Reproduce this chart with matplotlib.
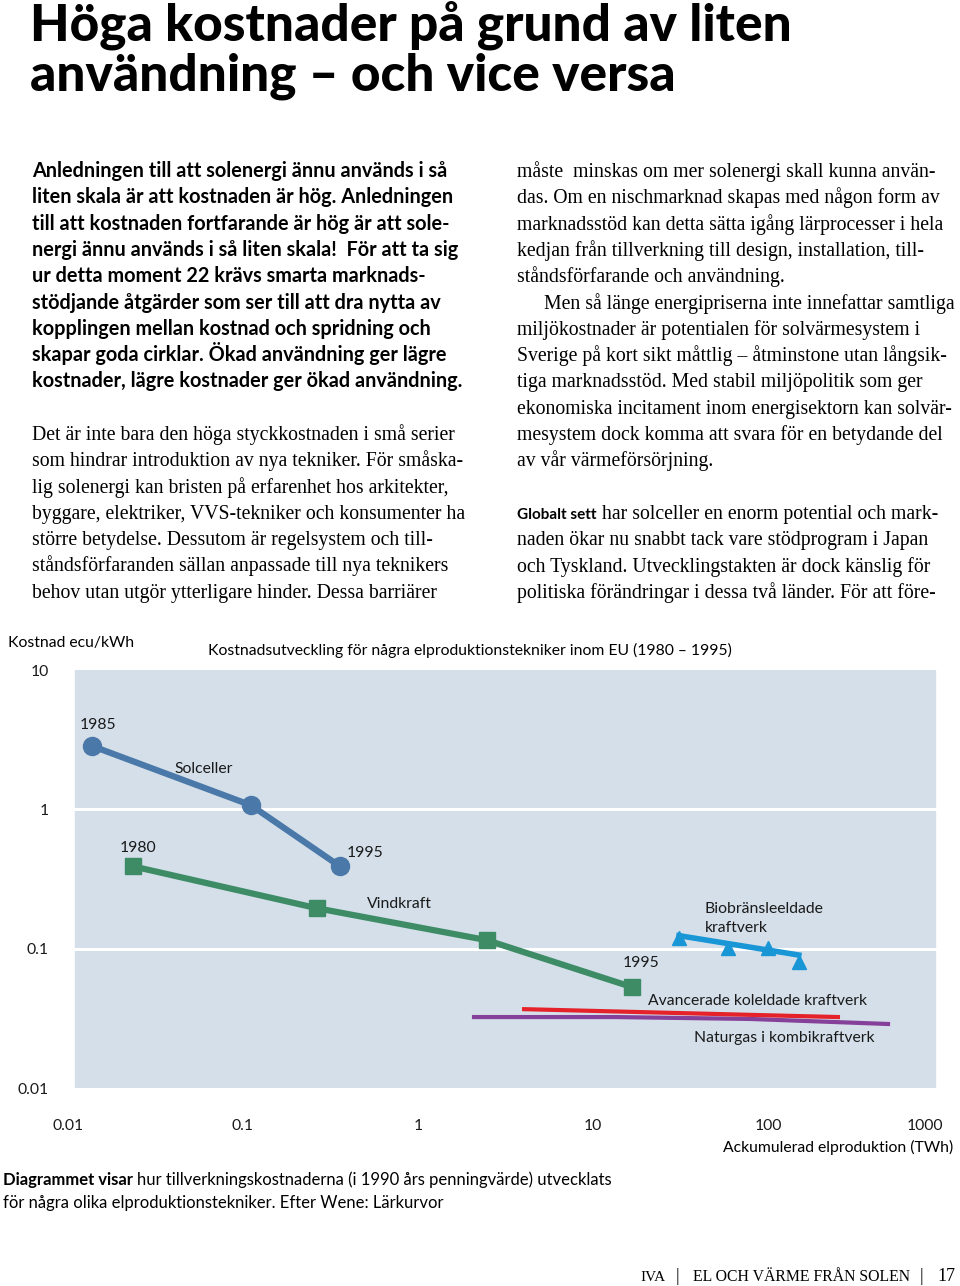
import matplotlib
matplotlib.use("Agg")
import matplotlib.pyplot as plt
from matplotlib.patches import Rectangle

W, H = 960, 1286

# --- chart data (ecu/kWh vs accumulated TWh) ---
sol_x = [0.0137, 0.111, 0.358]
sol_y = [2.85, 1.07, 0.39]

vind_x = [0.0235, 0.265, 2.48, 16.7]
vind_y = [0.39, 0.195, 0.115, 0.053]

bio_x = [31, 59, 100, 150]
bio_y = [0.119, 0.101, 0.101, 0.080]
bio_line_x = [31, 150]
bio_line_y = [0.124, 0.090]

kol_x = [4.04, 251]
kol_y = [0.0368, 0.0323]

gas_x = [2.09, 13.4, 78.9, 485]
gas_y = [0.0323, 0.0323, 0.0313, 0.0288]

x_ticks = [0.01, 0.1, 1, 10, 100, 1000]
x_labels = ["0.01", "0.1", "1", "10", "100", "1000"]
y_ticks = [0.01, 0.1, 1, 10]
y_labels = ["0.01", "0.1", "1", "10"]

# --- page text ---
title_lines = ["Höga kostnader på grund av liten", "användning – och vice versa"]
lead_lines = [
    "Anledningen till att solenergi ännu används i så",
    "liten skala är att kostnaden är hög. Anledningen",
    "till att kostnaden fortfarande är hög är att sole-",
    "nergi ännu används i så liten skala!  För att ta sig",
    "ur detta moment 22 krävs smarta marknads-",
    "stödjande åtgärder som ser till att dra nytta av",
    "kopplingen mellan kostnad och spridning och",
    "skapar goda cirklar. Ökad användning ger lägre",
    "kostnader, lägre kostnader ger ökad användning.",
]
left_body = [
    "Det är inte bara den höga styckkostnaden i små serier",
    "som hindrar introduktion av nya tekniker. För småska-",
    "lig solenergi kan bristen på erfarenhet hos arkitekter,",
    "byggare, elektriker, VVS-tekniker och konsumenter ha",
    "större betydelse. Dessutom är regelsystem och till-",
    "ståndsförfaranden sällan anpassade till nya teknikers",
    "behov utan utgör ytterligare hinder. Dessa barriärer",
]
right_body = [
    "måste  minskas om mer solenergi skall kunna använ-",
    "das. Om en nischmarknad skapas med någon form av",
    "marknadsstöd kan detta sätta igång lärprocesser i hela",
    "kedjan från tillverkning till design, installation, till-",
    "ståndsförfarande och användning.",
    "Men så länge energipriserna inte innefattar samtliga",
    "miljökostnader är potentialen för solvärmesystem i",
    "Sverige på kort sikt måttlig – åtminstone utan långsik-",
    "tiga marknadsstöd. Med stabil miljöpolitik som ger",
    "ekonomiska incitament inom energisektorn kan solvär-",
    "mesystem dock komma att svara för en betydande del",
    "av vår värmeförsörjning.",
]
global_lines = [
    "har solceller en enorm potential och mark-",
    "naden ökar nu snabbt tack vare stödprogram i Japan",
    "och Tyskland. Utvecklingstakten är dock känslig för",
    "politiska förändringar i dessa två länder. För att före-",
]

BLUE = "#4a78a8"
GREEN = "#3d8c66"
CYAN = "#1896d6"
RED = "#e52229"
PURPLE = "#85409a"
BG = "#d4dfe9"
SANS = "Lato"
SERIF = "Liberation Serif"
BODY = 14.2

fig = plt.figure(figsize=(W / 100, H / 100), dpi=100)
renderer = fig.canvas.get_renderer()


def put(x, y, s, **kw):
    return fig.text(x / W, 1 - y / H, s, **kw)


def put_runs(x, y, runs, gap=5):
    for s, kw in runs:
        t = put(x, y, s, va="baseline", **kw)
        x += t.get_window_extent(renderer).width + gap


# title
for i, line in enumerate(title_lines):
    put(30, 41 + i * 49, line, family=SANS, weight="black", fontsize=37, va="baseline")

# lead paragraph
for i, line in enumerate(lead_lines):
    put(32, 177 + i * 26.3, line, family=SANS, weight="bold", fontsize=14.3, va="baseline")

for i, line in enumerate(left_body):
    put(32, 440 + i * 26.3, line, family=SERIF, fontsize=BODY, va="baseline")

for i, line in enumerate(right_body):
    x0 = 544 if i == 5 else 517  # paragraph indent
    put(x0, 177 + i * 26.3, line, family=SERIF, fontsize=BODY, va="baseline")

put_runs(517, 519, [("Globalt sett", dict(family=SANS, weight="bold", fontsize=11)),
                    (global_lines[0], dict(family=SERIF, fontsize=BODY))])
for i, line in enumerate(global_lines[1:], start=1):
    put(517, 519 + i * 26.3, line, family=SERIF, fontsize=BODY, va="baseline")

# --- chart ---
ax = fig.add_axes([68 / W, 1 - 1088 / H, 875 / W, 418 / H])
ax.set_xscale("log")
ax.set_yscale("log")
ax.set_xlim(0.01, 1000)
ax.set_ylim(0.01, 10)
ax.patch.set_visible(False)
for s in ax.spines.values():
    s.set_visible(False)
ax.add_patch(Rectangle((7 / 875, 0), 860 / 875, 1, transform=ax.transAxes,
                       color=BG, zorder=0))
for g in [0.1, 1]:
    ax.axhline(g, xmin=7 / 875, xmax=867 / 875, color="white", lw=2.2, zorder=1)

ax.plot(gas_x, gas_y, color=PURPLE, lw=3, zorder=2)
ax.plot(kol_x, kol_y, color=RED, lw=3, zorder=2)
ax.plot(vind_x, vind_y, color=GREEN, lw=4.5, marker="s", ms=12, zorder=3)
ax.plot(sol_x, sol_y, color=BLUE, lw=4.5, marker="o", ms=13, zorder=3)
ax.plot(bio_line_x, bio_line_y, color=CYAN, lw=4, zorder=3)
ax.plot(bio_x, bio_y, color=CYAN, lw=0, marker="^", ms=10, zorder=3)

ax.minorticks_off()
ax.set_xticks(x_ticks, x_labels)
ax.set_yticks(y_ticks, y_labels)
ax.tick_params(length=0, labelsize=11.3, colors="#1a1a1a")
ax.tick_params(axis="x", pad=22)
ax.tick_params(axis="y", pad=14)
for lab in ax.get_xticklabels() + ax.get_yticklabels():
    lab.set_family(SANS)
ax.get_xticklabels()[-1].set_horizontalalignment("right")

lbl = dict(family=SANS, fontsize=11.3, color="#1a1a1a", va="center", ha="left")
ax.text(0.0117, 4.03, "1985", **lbl)
ax.text(0.0404, 1.95, "Solceller", **lbl)
ax.text(0.0198, 0.527, "1980", **lbl)
ax.text(0.393, 0.485, "1995", **lbl)
ax.text(0.511, 0.209, "Vindkraft", **lbl)
ax.text(43.6, 0.164, "Biobränsleeldade\nkraftverk", linespacing=1.45, **lbl)
ax.text(14.7, 0.0789, "1995", **lbl)
ax.text(20.6, 0.0421, "Avancerade koleldade kraftverk", **lbl)
ax.text(37.8, 0.0228, "Naturgas i kombikraftverk", **lbl)

put(8, 643, "Kostnad ecu/kWh", family=SANS, fontsize=11.3, va="center")
put(208, 650, "Kostnadsutveckling för några elproduktionstekniker inom EU (1980 – 1995)",
    family=SANS, fontsize=11.3, va="center")
put(953, 1147, "Ackumulerad elproduktion (TWh)", family=SANS, fontsize=11.3,
    va="center", ha="right")

# caption
put_runs(3, 1185, [("Diagrammet visar", dict(family=SANS, weight="bold", fontsize=12)),
                   ("hur tillverkningskostnaderna (i 1990 års penningvärde) utvecklats",
                    dict(family=SANS, fontsize=12))], gap=4)
put(3, 1208, "för några olika elproduktionstekniker. Efter Wene: Lärkurvor",
    family=SANS, fontsize=12, va="baseline")

# footer
foot = dict(family=SERIF, va="baseline")
put(640, 1281, "IVA", fontsize=11, **foot)
put(676, 1281, "|", fontsize=13, **foot)
put(693, 1281, "EL OCH VÄRME FRÅN SOLEN", fontsize=11.3, **foot)
put(920, 1281, "|", fontsize=13, **foot)
put(937, 1281, "17", fontsize=13, **foot)

fig.savefig("out.png", dpi=100, facecolor="white")
